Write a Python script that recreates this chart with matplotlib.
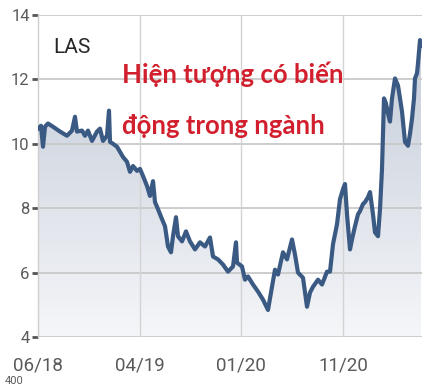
import numpy as np
import matplotlib
matplotlib.use("Agg")
import matplotlib.pyplot as plt
from matplotlib.colors import LinearSegmentedColormap

# ---- data (trading-day index, price) ----
day = [0, 6, 10, 14, 20, 30, 44, 58, 68, 74, 78, 88, 94, 100, 108, 118, 124, 130,
       138, 142, 144, 150, 158, 164, 170, 178, 184, 190, 198, 204, 210, 218, 224,
       230, 234, 240, 248, 254, 260, 266, 270, 276, 280, 288, 296, 304, 314, 324,
       334, 344, 350, 360, 370, 380, 390, 396, 398, 408, 414, 420, 430, 440, 450,
       460, 468, 474, 480, 490, 498, 508, 514, 520, 530, 538, 544, 550, 560, 568,
       578, 584, 590, 598, 604, 610, 614, 618, 624, 628, 634, 640, 644, 650, 654,
       660, 664, 670, 674, 680, 684, 688, 692, 696, 700, 704, 708, 714, 720, 724,
       728, 734, 740, 744, 748, 752, 754, 758, 760, 764, 766]
price = [10.47, 10.56, 9.91, 10.53, 10.63, 10.53, 10.38, 10.25, 10.41, 10.84,
         10.38, 10.41, 10.25, 10.41, 10.09, 10.38, 10.47, 10.09, 10.25, 11.03,
         10.06, 10.00, 9.91, 9.75, 9.59, 9.44, 9.13, 9.31, 9.16, 9.22, 9.00, 8.69,
         8.38, 8.84, 8.19, 7.97, 7.66, 7.44, 6.81, 6.63, 7.13, 7.72, 7.13, 6.97,
         7.28, 6.97, 6.72, 6.94, 6.81, 7.09, 6.50, 6.41, 6.25, 6.03, 6.19, 6.94,
         6.31, 6.19, 5.78, 5.88, 5.63, 5.41, 5.16, 4.84, 5.56, 6.09, 5.94, 6.63,
         6.41, 7.03, 6.56, 6.00, 5.84, 4.94, 5.38, 5.56, 5.78, 5.63, 6.03, 6.03,
         6.88, 7.50, 8.28, 8.59, 8.75, 7.81, 6.72, 7.03, 7.44, 7.81, 7.91, 8.13,
         8.19, 8.34, 8.50, 7.81, 7.25, 7.13, 7.97, 9.22, 11.41, 11.25, 10.94, 10.69,
         11.41, 12.03, 11.81, 11.41, 11.00, 10.06, 9.94, 10.31, 10.78, 11.41, 12.03,
         12.19, 12.50, 13.22, 13.05]
x_tick_pos = [0, 204, 406, 610]
x_tick_labels = ["06/18", "04/19", "01/20", "11/20"]
y_ticks = [4, 6, 8, 10, 12, 14]
ticker_name = "LAS"
note_lines = ["Hiện tượng có biến", "động trong ngành"]

W, H = 425, 387
fig = plt.figure(figsize=(W / 100, H / 100), dpi=100)
fig.patch.set_facecolor("white")
ax = fig.add_axes([38 / W, (H - 337) / H, (422 - 38) / W, (337 - 15) / H])
ax.set_facecolor("white")
ax.set_xlim(0, 768)
ax.set_ylim(4, 14)

x = np.array(day, dtype=float)
y = np.array(price, dtype=float)

# gradient fill under the line
cmap = LinearSegmentedColormap.from_list("g", ["#f5f6f9", "#c0c9d6"])
grad = np.linspace(0, 1, 256).reshape(-1, 1)
im = ax.imshow(grad, extent=[0, 768, 4, 14], origin="lower", aspect="auto",
               cmap=cmap, zorder=1)
poly = ax.fill_between(x, y, 4, color="none", lw=0)
path = poly.get_paths()[0]
im.set_clip_path(path, transform=ax.transData)

# grid
for v in y_ticks:
    ax.axhline(v, color="#c9c9c9", lw=1.3, zorder=2)
for p in x_tick_pos[1:]:
    ax.axvline(p, color="#d3d3d3", lw=1.0, zorder=2)

ax.plot(x, y, color="#3a5a84", lw=3.0, zorder=3, solid_joinstyle="round")

for s in ["top", "right", "bottom"]:
    ax.spines[s].set_visible(False)
ax.spines["left"].set_color("#cfcfcf")
ax.spines["left"].set_linewidth(1.0)

lab_font = ["Roboto", "DejaVu Sans"]
ax.set_yticks(y_ticks)
ax.set_yticklabels([str(v) for v in y_ticks], family=lab_font, fontsize=12,
                   color="#5a5a5a")
ax.tick_params(axis="y", length=4, width=2, color="#555555", pad=2)
ax.set_xticks(x_tick_pos)
ax.set_xticklabels(x_tick_labels, family=lab_font, fontsize=13.5, color="#5a5a5a")
ax.tick_params(axis="x", length=0, pad=14)

ax.text(0.04, 0.882, ticker_name, transform=ax.transAxes, family=lab_font,
        fontsize=15, color="#262626", ha="left", va="baseline", zorder=5)
note_font = ["Lato", "DejaVu Sans"]
ax.text(122 / W, 1 - 83 / H, note_lines[0], transform=fig.transFigure,
        family=note_font, fontsize=18.5, fontweight="bold", color="#d21f2d",
        ha="left", va="baseline", zorder=5)
ax.text(122 / W, 1 - 134 / H, note_lines[1], transform=fig.transFigure,
        family=note_font, fontsize=18.5, fontweight="bold", color="#d21f2d",
        ha="left", va="baseline", zorder=5)

# label of the panel below (only its top shows in the source)
fig.text(5 / W, 1 / H, "400", family=lab_font, fontsize=8,
         color="#5a5a5a", ha="left", va="bottom")

fig.savefig("out.png", dpi=100)
